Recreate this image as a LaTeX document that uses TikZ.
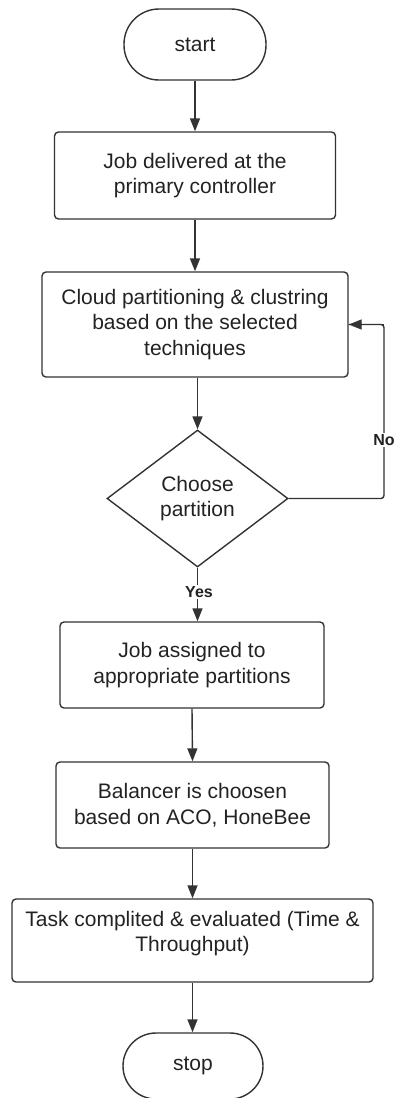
\documentclass[tikz,border=0pt]{standalone}
\usepackage{fontspec}
\setmainfont{Liberation Sans}
\usetikzlibrary{shapes.geometric,arrows.meta}
\definecolor{ink}{HTML}{222222}
\definecolor{edge}{HTML}{333333}
\begin{document}
\begin{tikzpicture}[x=1pt,y=-1pt,
  every node/.style={text=ink,font=\fontsize{21}{25.5}\selectfont,align=center,inner sep=0pt},
  boxst/.style={draw=edge,line width=1.4pt,rounded corners=4pt,rectangle},
  termst/.style={draw=edge,line width=1.4pt,rectangle,rounded corners=33pt},
  decst/.style={draw=edge,line width=1.4pt,diamond,aspect=1.32},
  arr/.style={draw=edge,line width=1.4pt,-{Triangle[length=13pt,width=10pt]}},
  lnk/.style={draw=edge,line width=1.4pt},
  lbl/.style={font=\bfseries\fontsize{16}{18}\selectfont,fill=white,inner sep=1pt}]
\useasboundingbox (0,0) rectangle (394,1098);
\node[termst,minimum width=142pt,minimum height=71pt,rounded corners=35pt] (start) at (195,44.5) {start};
\node[boxst,minimum width=281pt,minimum height=87pt] (b1) at (195,175.5) {Job delivered at the\\primary controller};
\node[boxst,minimum width=306pt,minimum height=105pt] (b2) at (195,324.5) {Cloud partitioning \& clustring\\based on the selected\\techniques};
\node[decst,minimum width=181pt,minimum height=137pt] (dia) at (197.5,498.5) {Choose\\partition};
\node[boxst,minimum width=264pt,minimum height=86pt] (b3) at (192,665) {Job assigned to\\appropriate partitions};
\node[boxst,minimum width=273pt,minimum height=86pt] (b4) at (192.5,805) {Balancer is choosen\\based on ACO, HoneBee};
\node[boxst,minimum width=361pt,minimum height=83pt,
  label={[yshift=7pt]center:{Task complited \& evaluated (Time \&\\Throughput)}}] (b5) at (192.5,940.5) {};
\node[termst,minimum width=140pt,minimum height=66pt] (stop) at (193,1066) {stop};
\coordinate (ne) at (384,324.5);
\draw[arr] (start.south) -- (b1.north);
\draw[arr] (b1.south) -- (b2.north);
\draw[arr] (dia.north |- b2.south) -- (dia.north);
\draw[arr] (dia.south) -- (dia.south |- b3.north);
\draw[arr] (b3.south) -- (b4.north);
\draw[arr] (b4.south) -- (b5.north);
\draw[arr] (b5.south) -- (b5.south |- stop.north);
\draw[lnk,rounded corners=3pt] (dia.east) -| (ne) -- (b2.east);
\draw[arr] (ne) -- (b2.east);
\node[lbl] (no) at (384,440) {No};
\node[lbl] (yes) at (199,592) {Yes};
\end{tikzpicture}
\end{document}
